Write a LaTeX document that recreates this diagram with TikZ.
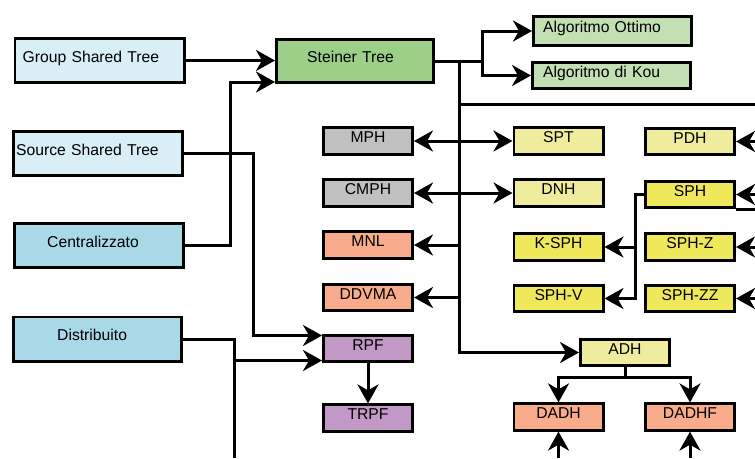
\documentclass[tikz,border=0pt]{standalone}
\usepackage{fontspec}
\setmainfont{Liberation Sans}
\usetikzlibrary{arrows.meta}
\definecolor{azzurro}{HTML}{D8EFF7}
\definecolor{celeste}{HTML}{A9D9E6}
\definecolor{verde}{HTML}{9CCF88}
\definecolor{verdino}{HTML}{C3E0B5}
\definecolor{grigio}{HTML}{C0C0C0}
\definecolor{salmone}{HTML}{F8AC8B}
\definecolor{viola}{HTML}{C198C6}
\definecolor{giallino}{HTML}{F0EC9D}
\definecolor{giallo}{HTML}{EEE85A}

\begin{document}
\begin{tikzpicture}[x=1pt, y=-1pt,
		box/.style={draw, line width=2.8pt, minimum width=89.2pt, minimum height=26.4pt, font=\fontsize{15.7}{18}\selectfont, text height=11.2pt, text depth=8pt},
		big/.style={box, minimum width=169.2pt, minimum height=44.2pt, align=left},
		conn/.style={line width=3pt},
		arr/.style={conn, -{Stealth[length=19pt, width=21pt, inset=6pt]}},
		arrarr/.style={conn, {Stealth[length=19pt, width=21pt, inset=6pt]}-{Stealth[length=19pt, width=21pt, inset=6pt]}}]
		\useasboundingbox (0,0) rectangle (755,458);
		%Alberi
		\node[big, fill=azzurro, inner xsep=7.8pt, text width=153.6pt] (gst) at (99.5,60.5) {Group Shared Tree};
		\node[big, fill=azzurro, inner xsep=2.8pt, text width=163.6pt] (sst) at (98,153.5) {Source Shared Tree};
		\node[big, fill=celeste, inner xsep=32.8pt, text width=103.6pt] (central) at (99,245.5) {Centralizzato};
		\node[big, fill=celeste, minimum width=168.2pt, inner xsep=43.8pt, text width=80.6pt] (distrib) at (97.5,339) {Distribuito};
		\node[big, fill=verde, minimum width=157.2pt, minimum height=43.2pt, inner xsep=30.8pt, text width=95.6pt] (steiner) at (355,61) {Steiner Tree};
		\node[big, fill=verdino, minimum width=158.2pt, minimum height=29.2pt, inner xsep=9.8pt, text width=138.6pt] (ottimo) at (612.5,31) {Algoritmo Ottimo};
		\node[big, fill=verdino, minimum width=158.2pt, minimum height=26.2pt, inner xsep=10.8pt, text width=136.6pt] (kou) at (611.5,75.5) {Algoritmo di Kou};
		%Euristiche
		\node[box, fill=grigio] (mph) at (368,141) {MPH};
		\node[box, fill=grigio] (cmph) at (368,193) {CMPH};
		\node[box, fill=salmone] (mnl) at (368,245) {MNL};
		\node[box, fill=salmone] (ddvma) at (368,297.5) {DDVMA};
		\node[box, fill=viola] (rpf) at (368,348.5) {RPF};
		\node[box, fill=viola] (trpf) at (368,418) {TRPF};
		\node[box, fill=giallino] (spt) at (558.5,141) {SPT};
		\node[box, fill=giallino] (dnh) at (558.5,193) {DNH};
		\node[box, fill=giallo] (ksph) at (558.5,247) {K-SPH};
		\node[box, fill=giallo] (sphV) at (558.5,298.5) {SPH-V};
		\node[box, fill=giallino] (pdh) at (690,141.5) {PDH};
		\node[box, fill=giallo] (sph) at (690,194.5) {SPH};
		\node[box, fill=giallo] (sphZ) at (690,247) {SPH-Z};
		\node[box, fill=giallo] (sphZZ) at (690,298.5) {SPH-ZZ};
		\node[box, fill=giallino] (adh) at (625,352.5) {ADH};
		\node[box, fill=salmone] (dadh) at (558.5,417) {DADH};
		\node[box, fill=salmone] (dadhf) at (690,417) {DADHF};
		\coordinate (trunk) at (459,61);
		\coordinate (edgeR) at (755,104);
		\coordinate (edgeB) at (234,458);
		\coordinate (rpfIn) at ([yshift=-12pt]rpf.west);
		%Collegamenti
		\draw[arr] (gst.east) -- (gst.east -| steiner.west);
		\draw[arr] (central.east) -- ++(45,0) |- ([yshift=-21pt]steiner.west);
		\draw[arr] (steiner.east) -- ++(47,0) |- (ottimo.west);
		\draw[arr] (steiner.east) ++(47,0) |- (kou.west);
		\draw[arr] (trunk) |- (adh.west);
		\draw[conn] (trunk |- edgeR) -- (edgeR);
		\draw[arrarr] (mph.east) -- (spt.west);
		\draw[arrarr] (cmph.east) -- (dnh.west);
		\draw[arr] (trunk |- mnl.east) -- (mnl.east);
		\draw[arr] (trunk |- ddvma.east) -- (ddvma.east);
		\draw[arr] (sst.east) -- ++(69,0) |- ([yshift=13pt]rpf.west);
		\draw[conn] (distrib.east) -| (edgeB);
		\draw[arr] (edgeB |- rpfIn) -- (rpfIn);
		\draw[arr] (rpf) -- (trpf);
		\draw[arr] (pdh.east -| edgeR) -- (pdh.east);
		\draw[arr] (sph.east -| edgeR) -- (sph.east);
		\draw[conn] (sph.south east) -- (sph.south east -| edgeR);
		\draw[arr] (sphZ.east -| edgeR) -- (sphZ.east);
		\draw[arr] (sphZZ.east -| edgeR) -- (sphZZ.east);
		\draw[arr] (sph.west) -- ++(-9,0) |- (sphV.east);
		\draw[arr] (sph.west) ++(-9,0) |- (ksph.east);
		\draw[arr] (adh.south) -- ++(0,10) -| (dadh.north);
		\draw[arr] (adh.south) ++(0,10) -| (dadhf.north);
		\draw[arr] (dadh.south |- edgeB) -- (dadh.south);
		\draw[arr] (dadhf.south |- edgeB) -- (dadhf.south);
	\end{tikzpicture}
\end{document}
